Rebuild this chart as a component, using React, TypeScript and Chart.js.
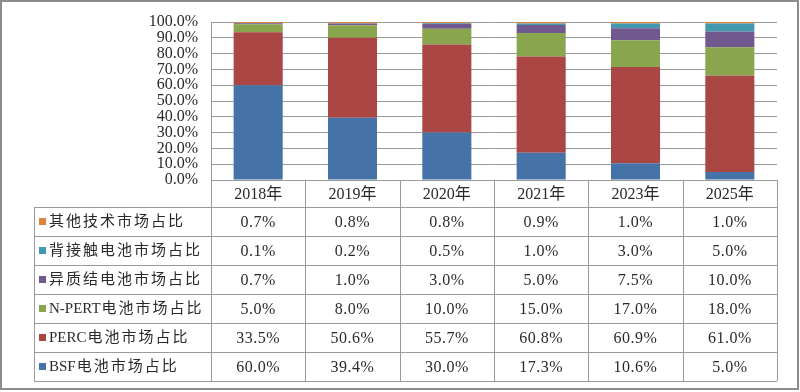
import React, { useEffect, useRef } from 'react';
import { Chart, registerables } from 'chart.js';

Chart.register(...registerables);

const categories = ['2018年', '2019年', '2020年', '2021年', '2023年', '2025年'];
const bsf = [60.0, 39.4, 30.0, 17.3, 10.6, 5.0];
const perc = [33.5, 50.6, 55.7, 60.8, 60.9, 61.0];
const npert = [5.0, 8.0, 10.0, 15.0, 17.0, 18.0];
const hjt = [0.7, 1.0, 3.0, 5.0, 7.5, 10.0];
const ibc = [0.1, 0.2, 0.5, 1.0, 3.0, 5.0];
const other = [0.7, 0.8, 0.8, 0.9, 1.0, 1.0];

// stacking order: bottom -> top
const seriesNames = ['BSF电池市场占比', 'PERC电池市场占比', 'N-PERT电池市场占比', '异质结电池市场占比', '背接触电池市场占比', '其他技术市场占比'];
const seriesData = [bsf, perc, npert, hjt, ibc, other];
const seriesColors = ['#4572A7', '#AA4643', '#89A54E', '#71588F', '#4198AF', '#DB843D'];

const LINE = '#9a9a9a';
const TEXT = '#2a2a2a';
const SERIF = '"Liberation Serif", "DejaVu Serif", serif';
const CJK = '"Liberation Serif", "Noto Sans CJK SC", serif';

const tablePlugin = {
  id: 'dataTable',
  afterDraw(chart: any) {
    const ctx = chart.ctx as CanvasRenderingContext2D;
    const area = chart.chartArea;
    const n = categories.length;
    const colW = (area.right - area.left) / n;
    const tableLeft = 34;
    const headerTop = area.bottom;
    const headerBottom = area.bottom + 27;
    const rowH = 29;
    const rows = seriesNames.length;
    const tableBottom = headerBottom + rowH * rows;

    ctx.save();
    // outer frame
    ctx.strokeStyle = '#8c8c8c';
    ctx.lineWidth = 2;
    ctx.strokeRect(1, 1, 797, 388);

    ctx.strokeStyle = LINE;
    ctx.lineWidth = 1;
    ctx.beginPath();
    ctx.moveTo(area.left, headerTop + 0.5);
    ctx.lineTo(area.right, headerTop + 0.5);
    for (let r = 0; r <= rows; r++) {
      const y = Math.round(headerBottom + r * rowH) + 0.5;
      ctx.moveTo(tableLeft, y);
      ctx.lineTo(area.right, y);
    }
    ctx.moveTo(tableLeft + 0.5, headerBottom);
    ctx.lineTo(tableLeft + 0.5, tableBottom);
    for (let c = 0; c <= n; c++) {
      const x = Math.round(area.left + c * colW) + 0.5;
      ctx.moveTo(x, headerTop);
      ctx.lineTo(x, tableBottom);
    }
    ctx.stroke();

    ctx.fillStyle = TEXT;
    ctx.textBaseline = 'middle';
    ctx.textAlign = 'center';
    for (let c = 0; c < n; c++) {
      const x = chart.scales.x.getPixelForValue(c);
      ctx.font = `16px ${CJK}`;
      ctx.fillText(categories[c], x, (headerTop + headerBottom) / 2 + 1);
    }
    for (let r = 0; r < rows; r++) {
      const si = rows - 1 - r;
      const cy = headerBottom + r * rowH + rowH / 2 + 1;
      ctx.fillStyle = seriesColors[si];
      ctx.fillRect(39, Math.round(cy - 5), 7, 7);
      ctx.fillStyle = TEXT;
      ctx.textAlign = 'left';
      ctx.font = `15px ${CJK}`;
      const name = seriesNames[si];
      const m = name.match(/^[A-Za-z\-]+/);
      let x0 = 49;
      if (m) {
        (ctx as any).letterSpacing = '0px';
        ctx.fillText(m[0], x0, cy);
        x0 += ctx.measureText(m[0]).width + 1;
      }
      (ctx as any).letterSpacing = '2px';
      ctx.fillText(m ? name.slice(m[0].length) : name, x0, cy);
      (ctx as any).letterSpacing = '0.5px';
      ctx.textAlign = 'center';
      ctx.font = `16px ${SERIF}`;
      for (let c = 0; c < n; c++) {
        const x = chart.scales.x.getPixelForValue(c);
        ctx.fillText(seriesData[si][c].toFixed(1) + '%', x, cy);
      }
      (ctx as any).letterSpacing = '0px';
    }
    ctx.restore();
  },
};

export default function App() {
  const ref = useRef<HTMLCanvasElement | null>(null);
  useEffect(() => {
    if (!ref.current) return;
    const chart = new Chart(ref.current, {
      type: 'bar',
      data: {
        labels: categories,
        datasets: seriesData.map((d, i) => ({
          label: seriesNames[i],
          data: d,
          backgroundColor: seriesColors[i],
          borderWidth: 0,
          barPercentage: 0.52,
          categoryPercentage: 1,
        })),
      },
      options: {
        responsive: false,
        animation: false,
        devicePixelRatio: 1,
        layout: { padding: { left: 0, right: 23, top: 22, bottom: 212 } },
        plugins: { legend: { display: false }, tooltip: { enabled: false } },
        scales: {
          x: { stacked: true, display: false },
          y: {
            stacked: true,
            min: 0,
            max: 100,
            afterFit: (s: any) => { s.width = 211; },
            ticks: {
              stepSize: 10,
              autoSkip: false,
              padding: 13,
              color: TEXT,
              font: { family: SERIF, size: 16, lineHeight: 1 },
              callback: (v: any) => Number(v).toFixed(1) + '%',
            },
            grid: { color: LINE, drawTicks: false },
            border: { display: true, color: LINE },
          },
        },
      },
      plugins: [tablePlugin],
    });
    return () => chart.destroy();
  }, []);
  return (
    <div style={{ position: 'fixed', left: 0, top: 0, width: 800, height: 392, background: '#fff' }}>
      <canvas ref={ref} width={800} height={392} />
    </div>
  );
}
